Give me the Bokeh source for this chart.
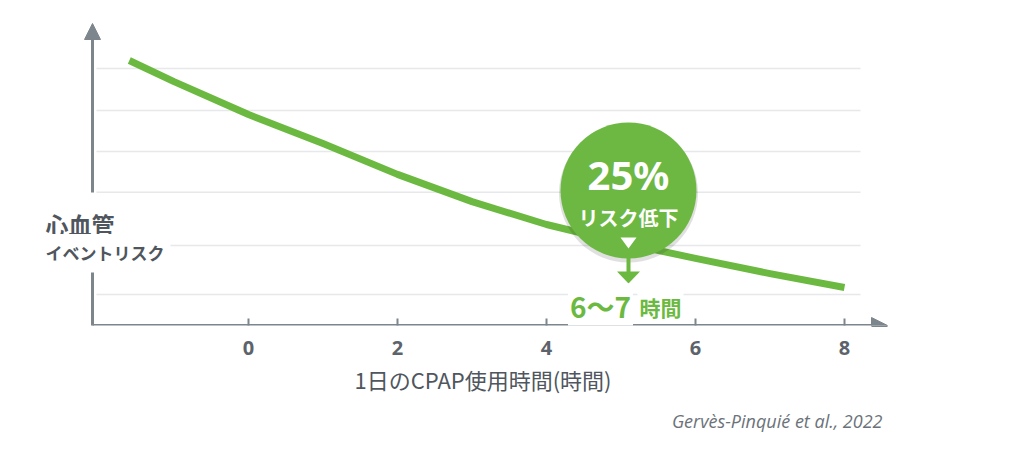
from bokeh.plotting import figure
from bokeh.models import Range1d, FixedTicker, Arrow, NormalHead, Label, Title
from bokeh.embed import file_html
from bokeh.resources import INLINE

# ---------------- data ----------------
hours = [-1.6, -1, 0, 1, 2, 3, 4, 5, 6, 7, 8]
risk = [103.1, 94.9, 82.1, 70.8, 58.8, 48.2, 39.3, 32.3, 26.1, 20.2, 14.8]
grid_levels = [100, 83.7, 67.7, 51.8, 31.1, 12.1]
x_ticks = [0, 2, 4, 6, 8]
x_title = "1日のCPAP使用時間(時間)"
y_title_1 = "心血管"
y_title_2 = "イベントリスク"
callout_value = "25%"
callout_text = "リスク低下"
callout_range = "6～7"
callout_unit = "時間"
source_note = "Gervès-Pinquié et al., 2022"

# ---------------- layout helpers (page pixels -> data) ----------------
X0_PX, PX_PER_X = 248.0, 74.5
Y0_PX, PX_PER_Y = 325.0, 2.57


def dx(px):
    return (px - X0_PX) / PX_PER_X


def dy(px):
    return (Y0_PX - px) / PX_PER_Y


def wx(px):
    return px / PX_PER_X


GREEN = "#6cb941"
BUBBLE = "#6db843"
AX = "#7d858d"
GRID = "#e6e8eb"
TEXT = "#4f565d"
JP = "Noto Sans CJK JP"

W, H = 1020, 448
FL, FR, FT, FB = 35, 930, 20, 325   # frame edges in page px

p = figure(width=W, height=H, output_backend="svg", toolbar_location=None,
           x_range=Range1d(dx(FL), dx(FR)), y_range=Range1d(0, dy(FT)),
           y_axis_location=None, min_border_left=FL, min_border_right=W - FR,
           min_border_top=FT, min_border_bottom=H - FB)
p.outline_line_color = None
p.xgrid.visible = False
p.ygrid.visible = False
p.background_fill_color = "white"
p.border_fill_color = "white"

# x axis (ticks + labels)
ax = p.xaxis[0]
ax.ticker = FixedTicker(ticks=x_ticks)
ax.axis_line_color = None
ax.major_tick_in = 7
ax.major_tick_out = 0
ax.minor_tick_line_color = None
ax.major_tick_line_color = AX
ax.major_tick_line_width = 2
ax.major_label_text_font = "Noto Sans"
ax.major_label_text_font_size = "20px"
ax.major_label_text_font_style = "bold"
ax.major_label_text_color = "#5c636a"
ax.major_label_standoff = 15
ax.axis_label = x_title
ax.axis_label_text_font = JP
ax.axis_label_text_font_size = "22px"
ax.axis_label_text_font_style = "normal"
ax.axis_label_text_color = TEXT
ax.axis_label_standoff = 5

# source note below the axis
p.add_layout(Title(text=source_note, align="right", offset=48, standoff=19,
                   text_font="Open Sans", text_font_size="18px",
                   text_font_style="italic", text_color="#6b7279"), "below")

# gridlines
gx0, gx1 = dx(96), dx(860)
p.segment(x0=[gx0] * len(grid_levels), y0=grid_levels,
          x1=[gx1] * len(grid_levels), y1=grid_levels,
          line_color=GRID, line_width=1.5)

# axes arrows
p.add_layout(Arrow(end=NormalHead(size=16, fill_color=AX, line_color=AX, line_width=1),
                   x_start=dx(92), y_start=0, x_end=dx(887), y_end=0,
                   line_color=AX, line_width=3))
p.add_layout(Arrow(end=NormalHead(size=16, fill_color=AX, line_color=AX, line_width=1),
                   x_start=dx(92), y_start=dy(192), x_end=dx(92), y_end=dy(23),
                   line_color=AX, line_width=3))
p.add_layout(Arrow(end=None, x_start=dx(92), y_start=dy(326.5), x_end=dx(92), y_end=dy(272),
                   line_color=AX, line_width=3))

# curve
p.line(hours, risk, line_width=7, line_color=GREEN, line_join="round")

# callout bubble
bx = dx(628)
p.scatter([bx], [dy(192.5)], size=139, fill_color="black", fill_alpha=0.12, line_color=None)
p.scatter([bx], [dy(190)], size=136, fill_color=BUBBLE, line_color=None)
p.patch([bx - wx(8), bx + wx(8), bx], [dy(237), dy(237), dy(248)],
        fill_color="white", line_color=None)
p.segment(x0=[bx], y0=[dy(256)], x1=[bx], y1=[dy(273)], line_color=GREEN, line_width=4)
p.patch([bx - wx(11.5), bx + wx(11.5), bx], [dy(271), dy(271), dy(283)],
        fill_color=GREEN, line_color=None)

p.add_layout(Label(x=bx, y=dy(174), text=callout_value, text_align="center",
                   text_baseline="middle", text_font="Noto Sans", text_font_size="40px",
                   text_font_style="bold", text_color="white"))
p.add_layout(Label(x=bx, y=dy(217), text=callout_text, text_align="center",
                   text_baseline="middle", text_font=JP, text_font_size="20px",
                   text_font_style="bold", text_color="white"))

p.add_layout(Label(x=dx(600), y=dy(305), text=callout_range, text_align="center",
                   text_baseline="middle", text_font=JP, text_font_size="28px",
                   text_font_style="bold", text_color=GREEN,
                   background_fill_color="white", padding=2))
p.add_layout(Label(x=dx(637), y=dy(306), text=callout_unit, text_align="left",
                   text_baseline="middle", text_font=JP, text_font_size="21px",
                   text_font_style="bold", text_color=GREEN,
                   background_fill_color="white", padding=2))

# y title
p.add_layout(Label(x=dx(39), y=dy(223), text=y_title_1, text_align="left",
                   text_baseline="middle", text_font=JP, text_font_size="23px",
                   text_font_style="bold", text_color=TEXT,
                   background_fill_color="white", padding=6))
p.add_layout(Label(x=dx(39), y=dy(252), text=y_title_2, text_align="left",
                   text_baseline="middle", text_font=JP, text_font_size="17px",
                   text_font_style="bold", text_color=TEXT,
                   background_fill_color="white", padding=6))

open("out.html", "w").write(file_html(p, INLINE))
